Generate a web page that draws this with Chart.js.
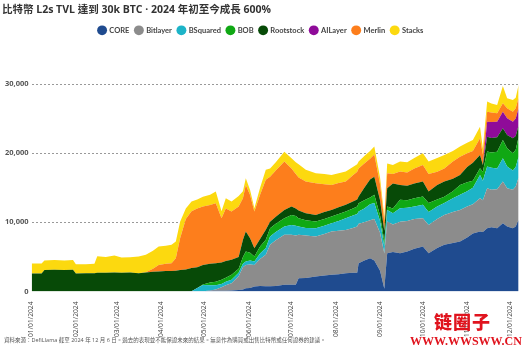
<!DOCTYPE html>
<html><head><meta charset="utf-8">
<script src="https://cdn.jsdelivr.net/npm/chart.js@4.4.0/dist/chart.umd.min.js"></script>
<style>
html,body{margin:0;padding:0;background:#fff;}
#wrap{position:relative;width:527px;height:353px;overflow:hidden;}
#c{position:absolute;left:0;top:0;}
#foot{position:absolute;left:4px;top:337px;font-family:'Open Sans','Noto Sans CJK TC',sans-serif;font-size:5.5px;line-height:7px;color:#555;white-space:nowrap;}
#wm1{position:absolute;left:434px;top:311px;font-family:'Noto Sans CJK SC',sans-serif;font-weight:900;font-size:18px;color:#e0141e;line-height:20px;letter-spacing:1px;}
#wm2{position:absolute;left:410px;top:334px;font-family:'Liberation Serif',serif;font-weight:bold;font-size:12px;color:#e0141e;line-height:14px;}
</style></head><body>
<div id="wrap"><canvas id="c" width="527" height="353"></canvas>
<div id="foot">資料來源：DefiLlama 截至 2024 年 12 月 6 日。過去的表現並不能保證未來的結果。無意作為購買或出售比特幣或任何證券的建議。</div>
<div id="wm1">链圈子</div><div id="wm2">WWW.WWSWW.CN</div></div>
<script>
// day offsets from 2024-01-01
const days = [0,7,9,16,23,29,31,38,44,46,52,58,63,69,75,80,85,89,94,98,101,104,108,112,116,120,125,129,133,136,140,145,148,150,153,156,160,164,167,171,177,182,185,187,192,199,205,210,215,220,225,228,229,233,237,240,244,247,249,253,258,263,268,274,278,284,289,295,300,305,309,314,316,319,322,326,330,333,337,339,341];

const seriesNames = ['CORE','Bitlayer','BSquared','BOB','Rootstock','AILayer','Merlin','Stacks'];

const core = [0,0,0,0,0,0,0,0,0,0,0,0,0,0,0,0,0,0,0,0,0,0,0,
  50,50,50,100,100,100,100,150,200,300,480,500,720,800,750,750,800,960,960,960,1900,1950,2170,2300,2410,2500,2650,2700,2700,4090,4500,4820,4500,3000,400,5540,5700,5540,5800,6200,6500,5540,6300,6750,7000,7230,7800,8400,8670,8600,9150,9300,9150,9870,9390,9150,9400,10350];
const bitlayer = [0,0,0,0,0,0,0,0,0,0,0,0,0,0,0,0,0,0,0,0,0,0,0,0,0,0,
  50,200,500,800,1050,2000,3200,3370,3400,3130,3900,4580,6000,6600,7240,7240,7140,6300,6150,5780,6000,6260,6300,6250,6500,6700,5710,5500,5480,6000,5500,5100,4575,4000,4560,4400,4300,4100,4090,4200,4330,4500,4570,4500,4200,4820,4600,5780,5400,5650,6020,5540,5550,5800,6150];
const bsquared = [0,0,0,0,0,0,0,0,0,0,0,0,0,0,0,0,0,0,0,0,0,0,0,0,
  450,900,750,600,500,500,490,500,500,485,600,485,800,960,1200,1200,1200,1430,1400,1200,1100,1200,1200,1200,1400,1700,1800,1800,1760,2000,2300,2300,1700,1000,1685,1600,1950,1900,1800,1930,1870,1800,1720,2000,2200,2200,2400,3370,2800,3130,3200,3000,3380,3130,2800,2800,3000];
const bob = [0,0,0,0,0,0,0,0,0,0,0,0,0,0,0,0,0,0,0,0,0,0,0,0,0,
  50,400,500,600,600,720,600,1000,1445,1100,725,1000,1210,1200,1200,1200,1450,1400,1200,1100,965,1000,970,1000,960,1000,1100,1210,1200,1000,1200,800,800,480,700,1200,1100,1200,1200,1300,1000,900,1000,1400,1300,1000,960,1300,2170,2200,2400,2650,2650,2500,2500,2800];
const rootstock = [2600,2600,3100,3150,3100,3130,2600,2650,2650,2700,2700,2750,2700,2750,2650,2750,2850,2900,2950,2950,3000,3100,3200,3350,3000,2850,2700,2690,2500,2400,2165,1700,2500,2890,2110,1200,1100,1440,950,1000,1200,1200,1100,1100,1000,965,1000,960,1000,970,1000,1000,960,1800,2600,2600,2200,1500,2650,3600,2150,2100,2100,2170,1650,2100,2200,1800,1450,2200,2600,1930,1000,2160,2100,2100,1680,1920,2150,2000,1700];
const ailayer = [0,0,0,0,0,0,0,0,0,0,0,0,0,0,0,0,0,0,0,0,0,0,0,0,0,0,0,0,0,0,0,0,0,0,0,0,0,0,0,0,0,0,0,0,0,0,0,0,0,0,0,0,0,0,0,0,0,0,0,0,0,0,0,0,0,0,0,0,0,0,0,0,0,
  2170,2300,2260,2410,2410,2410,2500,2490];
const merlin = [0,0,0,0,0,0,0,0,0,0,0,0,0,0,0,
  50,450,950,1050,1150,1800,4600,7300,8200,8500,8450,8500,8670,6400,7600,6985,7300,6000,6740,6260,5300,6400,7230,6500,6700,7000,5520,5000,4800,4600,4570,4000,3600,3500,3370,3800,4000,4070,3500,3000,3200,2300,1400,2170,1400,1940,1900,2200,2400,2550,1900,1900,2500,2650,2000,1700,2400,1500,1450,1400,1210,1210,1460,1440,1500,1510];
const stacks = [1450,1450,1400,1400,1400,1420,1350,1300,1350,2400,2300,2450,2200,2200,2400,2500,2600,2650,2600,2650,2430,2400,1500,1400,1300,1400,1500,1690,1000,1500,1440,1500,1000,970,720,480,1000,1440,1200,1200,1400,1460,1700,1900,1700,1450,1500,1450,1400,1440,1200,1100,1000,1100,1100,1150,1000,600,1400,1300,1460,1500,1500,1680,1800,2000,1940,1500,1450,1500,1600,1690,910,1450,1300,1200,2490,1440,1700,1500,1870];

const monthTickDays = [0,31,60,91,121,152,182,213,244,274,305,335];
const monthTickLabels = ['01/01/2024','02/01/2024','03/01/2024','04/01/2024','05/01/2024','06/01/2024','07/01/2024','08/01/2024','09/01/2024','10/01/2024','11/01/2024','12/01/2024'];
const yTickValues = [0,10000,20000,30000];

const seriesData = [core,bitlayer,bsquared,bob,rootstock,ailayer,merlin,stacks];
const colors = ['#1f4b8f','#8c8c8c','#1db4c8','#10a814','#074a07','#8f0b99','#fd7e1c','#fcd90f'];

const FF = "'Open Sans','Noto Sans CJK TC',sans-serif";
const LF = "Lato,'Open Sans',sans-serif";

const datasets = seriesData.map((arr, i) => ({
  label: seriesNames[i],
  data: days.map((d, j) => ({x: d, y: arr[j]})),
  backgroundColor: colors[i],
  borderColor: colors[i],
  borderWidth: 0,
  pointRadius: 0,
  pointHoverRadius: 0,
  tension: 0,
  fill: i === 0 ? 'origin' : '-1'
}));

const legendMargin = {
  id: 'legendMargin',
  beforeInit(chart) {
    const orig = chart.legend.fit;
    chart.legend.fit = function() { orig.bind(chart.legend)(); this.height += 14; };
  }
};

new Chart(document.getElementById('c'), {
  type: 'line',
  data: { datasets },
  plugins: [legendMargin],
  options: {
    responsive: false,
    devicePixelRatio: 1,
    animation: false,
    layout: { padding: { left: 2, right: 7, top: 0, bottom: 14 } },
    plugins: {
      title: {
        display: true,
        text: '比特幣 L2s TVL 達到 30k BTC · 2024 年初至今成長 600%',
        align: 'start',
        color: '#333',
        font: { family: FF, size: 10.5, weight: 'bold' },
        padding: { top: 4, bottom: 4 }
      },
      legend: {
        position: 'top',
        align: 'center',
        labels: {
          usePointStyle: true,
          pointStyle: 'circle',
          boxWidth: 7,
          boxHeight: 7,
          padding: 6,
          color: '#444',
          font: { family: LF, size: 7.5, weight: 'bold' }
        }
      },
      tooltip: { enabled: false }
    },
    scales: {
      x: {
        type: 'linear',
        min: 0,
        max: 342,
        afterBuildTicks: (axis) => { axis.ticks = monthTickDays.map(v => ({ value: v })); },
        ticks: {
          autoSkip: false,
          minRotation: 90,
          maxRotation: 90,
          padding: 2,
          color: '#444',
          font: { family: FF, size: 6.7 },
          callback: (v) => monthTickLabels[monthTickDays.indexOf(v)]
        },
        grid: { display: false },
        border: { display: false }
      },
      y: {
        stacked: true,
        min: 0,
        max: 33750,
        afterBuildTicks: (axis) => { axis.ticks = yTickValues.map(v => ({ value: v })); },
        ticks: {
          padding: 3,
          color: '#555',
          font: { family: FF, size: 7.5, weight: 'bold' },
          callback: (v) => v.toLocaleString('en-US')
        },
        grid: {
          drawTicks: false,
          color: (ctx) => ctx.tick && ctx.tick.value === 0 ? 'rgba(0,0,0,0)' : '#999',
          lineWidth: 1
        },
        border: { display: false, dash: [2, 2] }
      }
    }
  }
});
</script>
</body></html>
